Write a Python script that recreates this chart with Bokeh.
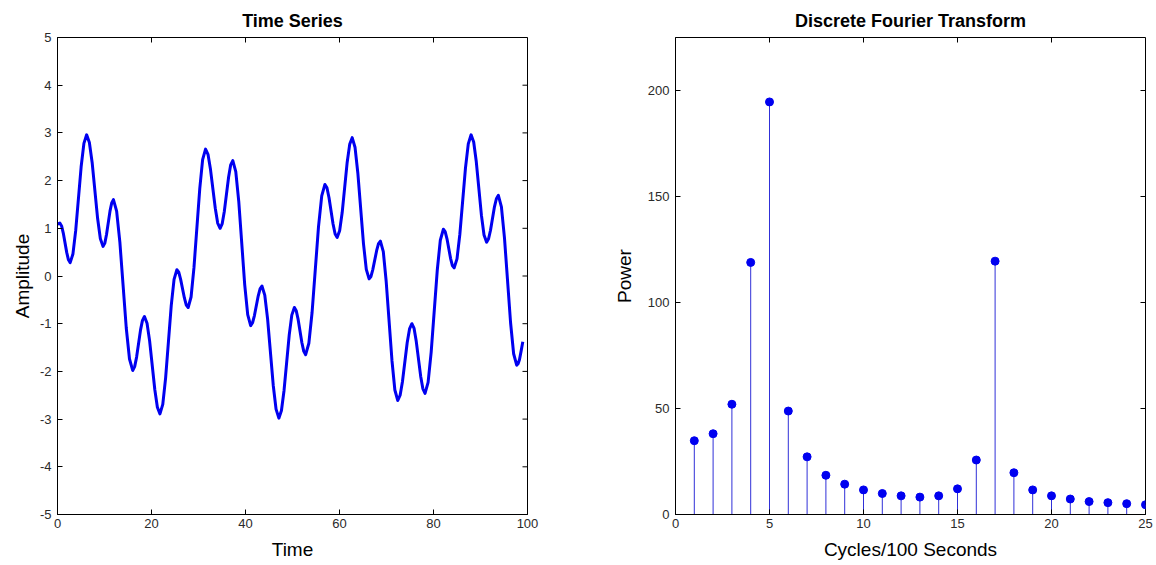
from bokeh.plotting import figure
from bokeh.layouts import row
from bokeh.models import Range1d, FixedTicker
from bokeh.embed import file_html
from bokeh.resources import INLINE

# ---- Time series (extrema and in-between points) ----
time_t = [0.0, 0.5, 0.87, 1.23, 1.97, 2.33, 2.7, 3.28, 3.87, 5.03, 5.62, 6.2, 6.78, 7.37,
          8.53, 9.12, 9.7, 10.07, 10.43, 11.17, 11.53, 11.9, 12.58, 13.27, 14.63, 15.32,
          16.0, 16.42, 16.83, 17.67, 18.08, 18.5, 19.05, 19.6, 20.7, 21.25, 21.8, 22.4,
          23.0, 24.2, 24.8, 25.4, 25.8, 26.2, 27.0, 27.4, 27.8, 28.42, 29.03, 30.27,
          30.88, 31.5, 32.02, 32.53, 33.57, 34.08, 34.6, 35.05, 35.5, 36.4, 36.85, 37.3,
          37.93, 38.57, 39.83, 40.47, 41.1, 41.5, 41.9, 42.7, 43.1, 43.5, 44.1, 44.7,
          45.9, 46.5, 47.1, 47.65, 48.2, 49.3, 49.85, 50.4, 50.8, 51.2, 52.0, 52.4,
          52.8, 53.48, 54.17, 55.53, 56.22, 56.9, 57.33, 57.77, 58.63, 59.07, 59.5, 60.03,
          60.57, 61.63, 62.17, 62.7, 63.3, 63.9, 65.1, 65.7, 66.3, 66.7, 67.1, 67.9,
          68.3, 68.7, 69.32, 69.93, 71.17, 71.78, 72.4, 72.9, 73.4, 74.4, 74.9, 75.4,
          75.87, 76.33, 77.27, 77.73, 78.2, 78.85, 79.5, 80.8, 81.45, 82.1, 82.48, 82.87,
          83.63, 84.02, 84.4, 85.0, 85.6, 86.8, 87.4, 88.0, 88.55, 89.1, 90.2, 90.75,
          91.3, 91.72, 92.13, 92.97, 93.38, 93.8, 94.45, 95.1, 96.4, 97.05, 97.7, 98.0,
          98.3, 98.65, 99.0]
amplitude = [1.09, 1.11, 1.05, 0.90, 0.49, 0.34, 0.28, 0.46, 0.95, 2.29, 2.78, 2.96, 2.80, 2.38,
             1.21, 0.78, 0.62, 0.69, 0.87, 1.36, 1.53, 1.60, 1.36, 0.71, -1.09, -1.74,
             -1.98, -1.90, -1.70, -1.13, -0.93, -0.85, -0.99, -1.36, -2.38, -2.75, -2.89, -2.69,
             -2.14, -0.62, -0.07, 0.13, 0.08, -0.07, -0.46, -0.61, -0.66, -0.44, 0.17, 1.83,
             2.44, 2.66, 2.55, 2.25, 1.42, 1.11, 1.00, 1.10, 1.36, 2.07, 2.33, 2.42,
             2.19, 1.56, -0.18, -0.81, -1.04, -0.98, -0.83, -0.42, -0.27, -0.21, -0.40, -0.90,
             -2.29, -2.79, -2.98, -2.82, -2.40, -1.24, -0.82, -0.66, -0.73, -0.91, -1.40, -1.58,
             -1.65, -1.41, -0.76, 1.03, 1.68, 1.92, 1.85, 1.64, 1.09, 0.88, 0.81, 0.95,
             1.33, 2.38, 2.76, 2.90, 2.70, 2.16, 0.68, 0.14, -0.06, -0.01, 0.14, 0.53,
             0.68, 0.73, 0.51, -0.11, -1.78, -2.39, -2.61, -2.50, -2.21, -1.40, -1.11, -1.00,
             -1.10, -1.37, -2.10, -2.36, -2.46, -2.23, -1.60, 0.12, 0.75, 0.98, 0.93, 0.78,
             0.37, 0.22, 0.17, 0.36, 0.87, 2.26, 2.77, 2.96, 2.81, 2.40, 1.27, 0.86,
             0.71, 0.78, 0.96, 1.45, 1.62, 1.69, 1.45, 0.80, -0.98, -1.63, -1.87, -1.84,
             -1.75, -1.57, -1.38]

# ---- DFT power spectrum ----
cycles = list(range(1, 26))
power = [34.8, 38.1, 52.0, 118.9, 194.6, 48.8, 27.2, 18.5, 14.3, 11.6, 9.9, 8.8, 8.2,
         8.8, 12.1, 25.7, 119.5, 19.7, 11.6, 8.8, 7.3, 6.1, 5.6, 5.1, 4.6]
stem_base = [0] * len(cycles)

ts_xticks = [0, 20, 40, 60, 80, 100]
ts_yticks = [-5, -4, -3, -2, -1, 0, 1, 2, 3, 4, 5]
ts_xrange = (0, 100)
ts_yrange = (-5, 5)
dft_xticks = [0, 5, 10, 15, 20, 25]
dft_yticks = [0, 50, 100, 150, 200]
dft_xrange = (0, 25)
dft_yrange = (0, 225)

FONT = "Liberation Sans"
TICK_COLOR = "#2a2a2a"
H = 564
FRAME_W = 470
FRAME_H = 477
TICK_LEN = 5


def style(p, xticks, yticks, ylabel_standoff, xr, yr):
    p.outline_line_color = "black"
    p.outline_line_width = 1
    p.xgrid.visible = False
    p.ygrid.visible = False
    p.title.align = "center"
    p.title.text_font = FONT
    p.title.text_font_size = "18px"
    p.title.text_font_style = "bold"
    p.title.text_color = "black"
    p.title.standoff = 14
    p.xaxis.ticker = FixedTicker(ticks=xticks)
    p.yaxis.ticker = FixedTicker(ticks=yticks)
    # plain ASCII hyphen for negative labels, as in the reference
    p.xaxis.major_label_overrides = {t: str(t) for t in xticks}
    p.yaxis.major_label_overrides = {t: str(t) for t in yticks}
    for ax in p.xaxis + p.yaxis:
        ax.major_tick_in = TICK_LEN
        ax.major_tick_out = 0
        ax.minor_tick_line_color = None
        ax.axis_line_color = "black"
        ax.major_tick_line_color = "black"
        ax.major_label_text_font = FONT
        ax.major_label_text_font_size = "13px"
        ax.major_label_text_color = TICK_COLOR
        ax.axis_label_text_font = FONT
        ax.axis_label_text_font_size = "19px"
        ax.axis_label_text_font_style = "normal"
        ax.axis_label_text_color = "black"
    p.xaxis.major_label_standoff = 4
    p.xaxis.axis_label_standoff = 8
    p.yaxis.major_label_standoff = 6
    p.yaxis.axis_label_standoff = ylabel_standoff
    # inward tick marks on the top and right edges of the box (no labels)
    dy = (yr[1] - yr[0]) * TICK_LEN / FRAME_H
    dx = (xr[1] - xr[0]) * TICK_LEN / FRAME_W
    p.segment(x0=xticks, y0=[yr[1]] * len(xticks), x1=xticks, y1=[yr[1] - dy] * len(xticks),
              line_color="black", line_width=1)
    p.segment(x0=[xr[1]] * len(yticks), y0=yticks, x1=[xr[1] - dx] * len(yticks), y1=yticks,
              line_color="black", line_width=1)


p1 = figure(width=607, height=H, title="Time Series",
            x_range=Range1d(*ts_xrange), y_range=Range1d(*ts_yrange),
            output_backend="svg", toolbar_location=None,
            min_border_left=57, min_border_right=80, min_border_top=37, min_border_bottom=50,
            x_axis_label="Time", y_axis_label="Amplitude")
p1.line(time_t, amplitude, line_color="#0000f0", line_width=3, line_join="round")
style(p1, ts_xticks, ts_yticks, 4, ts_xrange, ts_yrange)

p2 = figure(width=548, height=H, title="Discrete Fourier Transform",
            x_range=Range1d(*dft_xrange), y_range=Range1d(*dft_yrange),
            output_backend="svg", toolbar_location=None,
            min_border_left=68, min_border_right=10, min_border_top=37, min_border_bottom=50,
            x_axis_label="Cycles/100 Seconds", y_axis_label="Power")
p2.segment(x0=cycles, y0=stem_base, x1=cycles, y1=power, line_color="#3030d8", line_width=1)
p2.scatter(cycles, power, size=8, fill_color="#0000f0", line_color="#0000f0")
style(p2, dft_xticks, dft_yticks, 10, dft_xrange, dft_yrange)

layout = row(p1, p2)
open("out.html", "w").write(file_html(layout, INLINE))
